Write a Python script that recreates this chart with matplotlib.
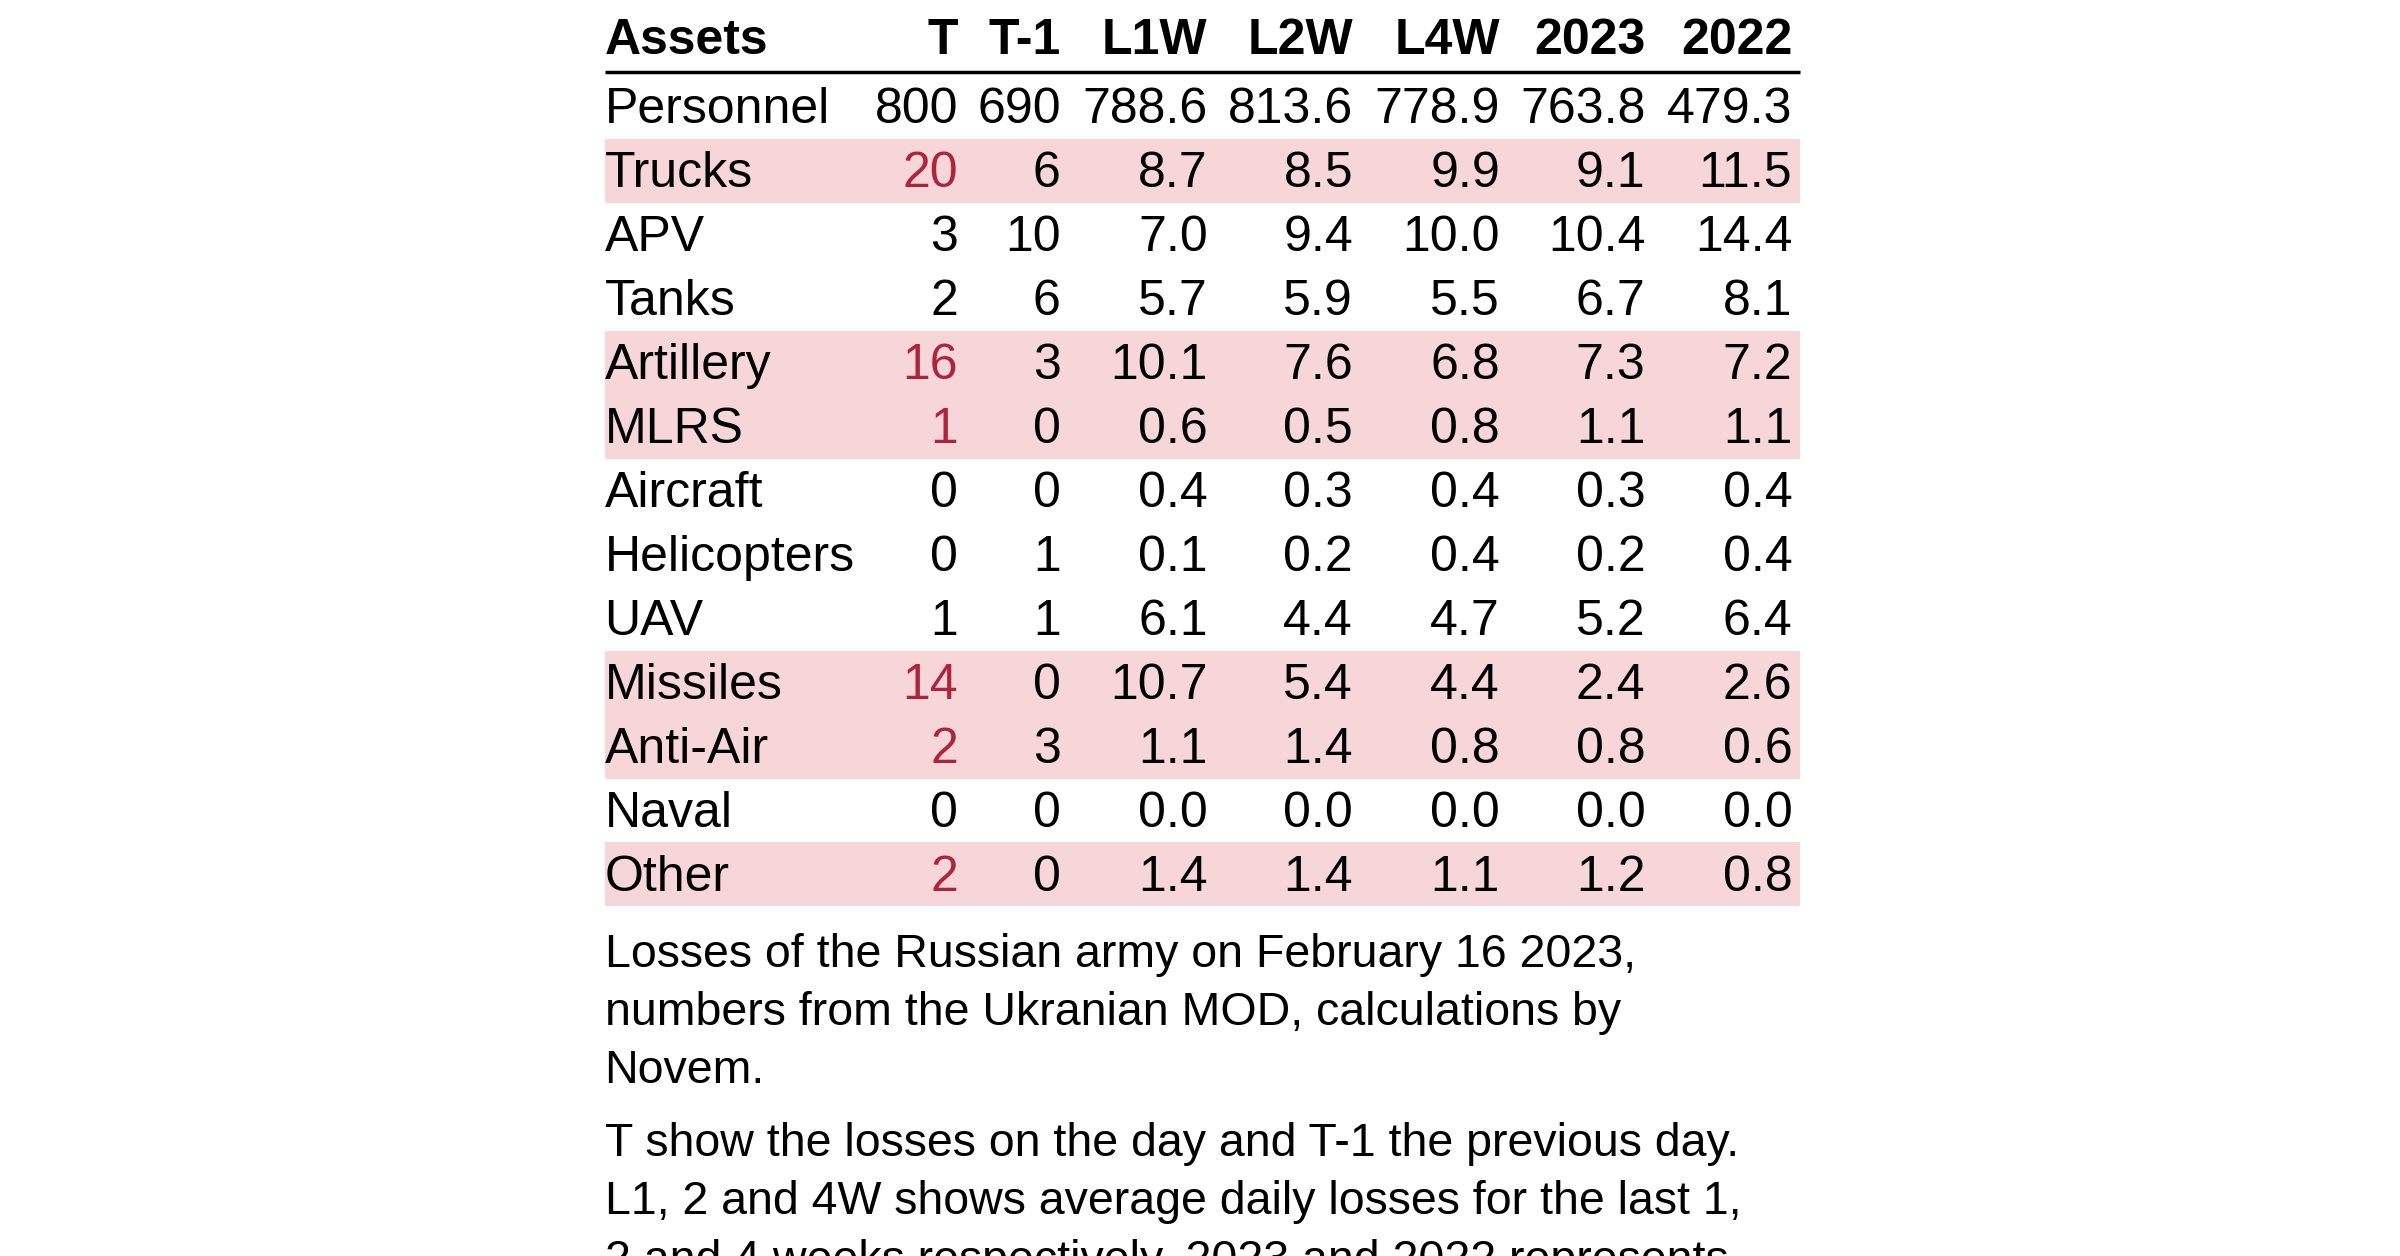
import matplotlib
matplotlib.use("Agg")
import matplotlib.pyplot as plt
from matplotlib.patches import Rectangle

plt.rcParams["font.family"] = ["Liberation Sans", "DejaVu Sans"]

columns = ["Assets", "T", "T-1", "L1W", "L2W", "L4W", "2023", "2022"]
assets = ["Personnel", "Trucks", "APV", "Tanks", "Artillery", "MLRS", "Aircraft",
          "Helicopters", "UAV", "Missiles", "Anti-Air", "Naval", "Other"]
t_today = ["800", "20", "3", "2", "16", "1", "0", "0", "1", "14", "2", "0", "2"]
t_prev = ["690", "6", "10", "6", "3", "0", "0", "1", "1", "0", "3", "0", "0"]
l1w = ["788.6", "8.7", "7.0", "5.7", "10.1", "0.6", "0.4", "0.1", "6.1", "10.7", "1.1", "0.0", "1.4"]
l2w = ["813.6", "8.5", "9.4", "5.9", "7.6", "0.5", "0.3", "0.2", "4.4", "5.4", "1.4", "0.0", "1.4"]
l4w = ["778.9", "9.9", "10.0", "5.5", "6.8", "0.8", "0.4", "0.4", "4.7", "4.4", "0.8", "0.0", "1.1"]
y2023 = ["763.8", "9.1", "10.4", "6.7", "7.3", "1.1", "0.3", "0.2", "5.2", "2.4", "0.8", "0.0", "1.2"]
y2022 = ["479.3", "11.5", "14.4", "8.1", "7.2", "1.1", "0.4", "0.4", "6.4", "2.6", "0.6", "0.0", "0.8"]
highlighted = {"Trucks", "Artillery", "MLRS", "Missiles", "Anti-Air", "Other"}

caption = [
    ["Losses of the Russian army on February 16 2023,",
     "numbers from the Ukranian MOD, calculations by",
     "Novem."],
    ["T show the losses on the day and T-1 the previous day.",
     "L1, 2 and 4W shows average daily losses for the last 1,",
     "2 and 4 weeks respectively. 2023 and 2022 represents"],
]

# layout in reference pixel units (1568 x 821)
left, right = 395, 1176
col_right = [626, 693, 789, 884, 980, 1075, 1171]
header_y, rule_y = 27, 47
row0, row_h = 72, 41.8
fs, cap_fs = 36, 33.5
red, pink = "#b0243a", "#f7d6da"

fig = plt.figure(figsize=(24, 12.56), dpi=100)
ax = fig.add_axes([0, 0, 1, 1])
ax.set_xlim(0, 1568)
ax.set_ylim(821, 0)
ax.axis("off")

ax.text(left, header_y, columns[0], fontsize=fs, fontweight="bold", va="center", ha="left")
for x, name in zip(col_right, columns[1:]):
    ax.text(x, header_y, name, fontsize=fs, fontweight="bold", va="center", ha="right")
ax.plot([left, right], [rule_y, rule_y], color="black", lw=2.5, solid_capstyle="butt")

values = list(zip(t_today, t_prev, l1w, l2w, l4w, y2023, y2022))
for i, (asset, vals) in enumerate(zip(assets, values)):
    y = row0 + i * row_h
    hl = asset in highlighted
    if hl:
        ax.add_patch(Rectangle((left, y - 2 - row_h / 2), right - left, row_h,
                               facecolor=pink, edgecolor="none", zorder=0))
    ax.text(left, y, asset, fontsize=fs, va="center", ha="left")
    for j, (x, v) in enumerate(zip(col_right, vals)):
        color = red if (hl and j == 0) else "black"
        ax.text(x, y, v, fontsize=fs, va="center", ha="right", color=color)

y = 624
for para in caption:
    for line in para:
        ax.text(left, y, line, fontsize=cap_fs, va="center", ha="left")
        y += 38
    y += 10

fig.savefig("out.png", dpi=100)
